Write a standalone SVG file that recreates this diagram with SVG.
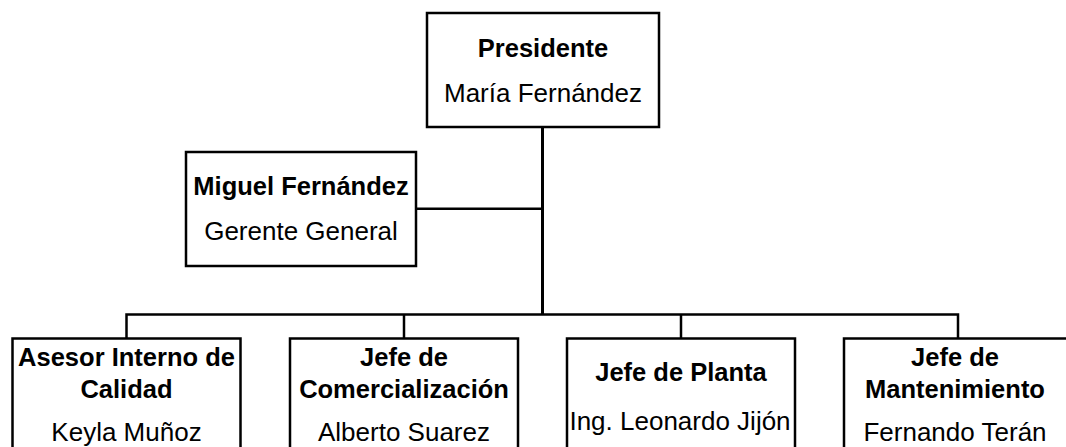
<svg xmlns="http://www.w3.org/2000/svg" width="1066" height="447" viewBox="0 0 1066 447">
<style>
.box{fill:#ffffff;stroke:#000000;stroke-width:2.5}
.ln{fill:none;stroke:#000000;stroke-width:2.5}
.main{fill:none;stroke:#000000;stroke-width:3}
text{font-family:"Liberation Sans",Arial,sans-serif;fill:#000000;text-anchor:middle}
.b{font-weight:bold;font-size:25.5px}
.r{font-size:26px}
</style>
<rect width="1066" height="447" fill="#ffffff"/>
<g id="connectors">
<line class="main" x1="542.5" y1="127" x2="542.5" y2="314.5"/>
<line class="ln" x1="416" y1="208.7" x2="542.5" y2="208.7"/>
<polyline class="ln" points="126.5,338.5 126.5,314.5 958,314.5 958,338.5"/>
<line class="ln" x1="404" y1="314.5" x2="404" y2="338.5"/>
<line class="ln" x1="681" y1="314.5" x2="681" y2="338.5"/>
</g>
<g id="presidente">
<rect class="box" x="427" y="13" width="232" height="114"/>
<text class="b" x="543" y="56.5">Presidente</text>
<text class="r" x="543" y="101.5">María Fernández</text>
</g>
<g id="gerente">
<rect class="box" x="186" y="152" width="230" height="114"/>
<text class="b" x="301" y="195">Miguel Fernández</text>
<text class="r" x="301" y="240">Gerente General</text>
</g>
<g id="asesor">
<rect class="box" x="12.5" y="338.5" width="228" height="120"/>
<text class="b" x="126.5" y="365.5">Asesor Interno de</text>
<text class="b" x="126.5" y="397.5">Calidad</text>
<text class="r" x="126.5" y="441">Keyla Muñoz</text>
</g>
<g id="comercializacion">
<rect class="box" x="290" y="338.5" width="228" height="120"/>
<text class="b" x="404" y="365.5">Jefe de</text>
<text class="b" x="404" y="397.5">Comercialización</text>
<text class="r" x="404" y="441">Alberto Suarez</text>
</g>
<g id="planta">
<rect class="box" x="567" y="338.5" width="228" height="120"/>
<text class="b" x="681" y="381">Jefe de Planta</text>
<text class="r" x="680" y="430">Ing. Leonardo Jijón</text>
</g>
<g id="mantenimiento">
<rect class="box" x="844" y="338.5" width="232" height="120"/>
<text class="b" x="955" y="365.5">Jefe de</text>
<text class="b" x="955" y="397.5">Mantenimiento</text>
<text class="r" x="955" y="441">Fernando Terán</text>
</g>
</svg>
